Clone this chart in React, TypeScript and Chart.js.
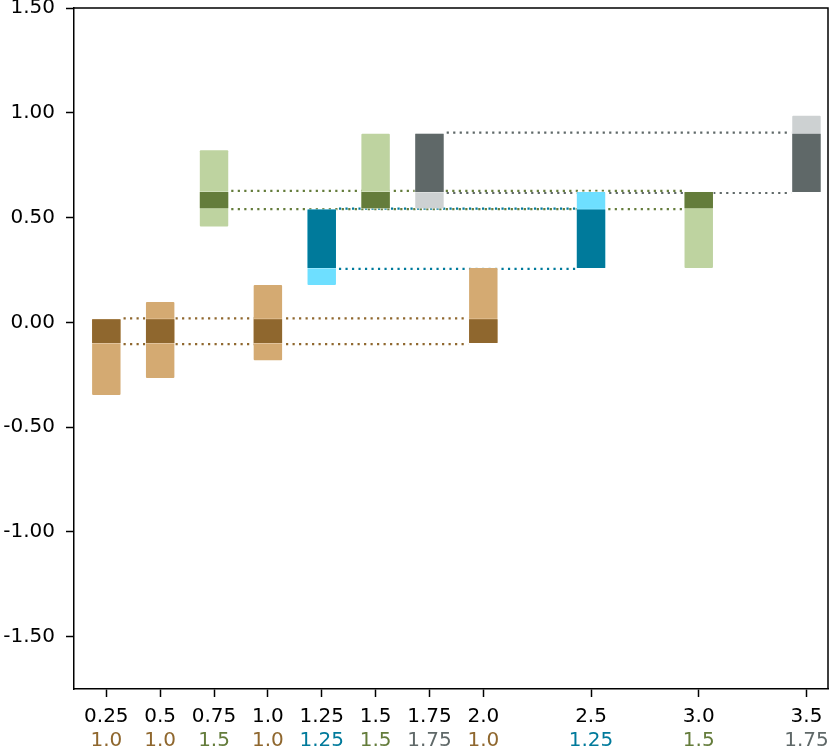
import { useEffect, useRef } from 'react';
import { Chart, registerables } from 'chart.js';

Chart.register(...registerables);

// ---- data ----
const xValues = [0.25, 0.5, 0.75, 1.0, 1.25, 1.5, 1.75, 2.0, 2.5, 3.0, 3.5];
const topLabels = ['0.25', '0.5', '0.75', '1.0', '1.25', '1.5', '1.75', '2.0', '2.5', '3.0', '3.5'];
const bottomLabels = ['1.0', '1.0', '1.5', '1.0', '1.25', '1.5', '1.75', '1.0', '1.25', '1.5', '1.75'];
const groupOfBar = [0, 0, 1, 0, 2, 1, 3, 0, 2, 1, 3];
const lightLow = [-0.352, -0.27, 0.452, -0.186, 0.173, 0.54, 0.54, -0.104, 0.255, 0.255, 0.617];
const lightHigh = [0.019, 0.102, 0.826, 0.183, 0.543, 0.905, 0.905, 0.264, 0.627, 0.627, 0.99];

const groupNames = ['brown', 'green', 'teal', 'gray'];
const refLow = [-0.104, 0.54, 0.255, 0.617];
const refHigh = [0.019, 0.627, 0.543, 0.905];

const darkColors = ['#8F672E', '#647C3B', '#007A9B', '#5F6868'];
const lightColors = ['#D4AA72', '#BED3A0', '#6EDFFF', '#CDD1D2'];

const yTickValues = [-1.5, -1.0, -0.5, 0.0, 0.5, 1.0, 1.5];

// bar width as a share of the smallest x spacing (0.25)
const BAR_SHARE = 0.565;

export default function App() {
  const ref = useRef<HTMLCanvasElement>(null);

  useEffect(() => {
    document.body.style.margin = '0';
    const FONT = { family: '"DejaVu Sans"', size: 20 };

    const minGap = Math.min(...xValues.slice(1).map((v, i) => v - xValues[i]));
    const halfBar = (minGap * BAR_SHARE) / 2;

    const lightData = xValues.map((x, i) => ({ x, y: [lightLow[i], lightHigh[i]] }));
    const darkData = xValues.map((x, i) => ({ x, y: [refLow[groupOfBar[i]], refHigh[groupOfBar[i]]] }));

    const lineDatasets: any[] = [];
    groupNames.forEach((name, g) => {
      const gx = xValues.filter((_, i) => groupOfBar[i] === g);
      const x0 = Math.min(...gx) + halfBar;
      const x1 = Math.max(...gx) - halfBar;
      [refHigh[g], refLow[g]].forEach((yv) => {
        lineDatasets.push({
          type: 'line',
          label: name + ' ref',
          data: [{ x: x0, y: yv }, { x: x1, y: yv }],
          borderColor: darkColors[g],
          borderWidth: 2.2,
          borderDash: [2.2, 4.3],
          borderDashOffset: -2,
          borderCapStyle: 'butt',
          pointRadius: 0,
          fill: false,
          order: 2,
        });
      });
    });

    const framePlugin = {
      id: 'frame',
      afterDraw(chart: any) {
        const { ctx, chartArea: a } = chart;
        ctx.save();
        ctx.strokeStyle = '#000';
        ctx.lineWidth = 1.5;
        ctx.beginPath();
        ctx.moveTo(a.left, a.top);
        ctx.lineTo(a.right, a.top);
        ctx.lineTo(a.right, a.bottom);
        ctx.stroke();
        ctx.restore();
      },
    };

    const chart = new Chart(ref.current!, {
      type: 'bar',
      data: {
        datasets: [
          {
            type: 'bar',
            label: 'range',
            data: lightData as any,
            backgroundColor: xValues.map((_, i) => lightColors[groupOfBar[i]]),
            borderColor: 'rgba(255,255,255,0.45)',
            borderWidth: 1,
            borderSkipped: false,
            borderRadius: 2,
            categoryPercentage: 1,
            barPercentage: BAR_SHARE,
            grouped: false,
            order: 1,
          } as any,
          {
            type: 'bar',
            label: 'reference',
            data: darkData as any,
            backgroundColor: xValues.map((_, i) => darkColors[groupOfBar[i]]),
            borderColor: 'rgba(255,255,255,0.3)',
            borderWidth: 1,
            borderSkipped: false,
            categoryPercentage: 1,
            barPercentage: BAR_SHARE,
            grouped: false,
            order: 0,
          } as any,
          ...lineDatasets,
        ],
      },
      options: {
        animation: false,
        responsive: true,
        maintainAspectRatio: false,
        layout: { padding: { top: 8, right: 3, left: 0, bottom: 0 } },
        plugins: {
          legend: { display: false },
          tooltip: { enabled: false },
        },
        scales: {
          x: {
            type: 'linear',
            position: 'bottom',
            weight: 0,
            min: 0.1,
            max: 3.6,
            offset: false,
            afterBuildTicks: (scale: any) => {
              scale.ticks = xValues.map((v) => ({ value: v }));
            },
            afterFit: (scale: any) => {
              scale.height = 33;
              scale.paddingLeft = 0;
              scale.paddingRight = 0;
            },
            grid: {
              offset: false,
              drawOnChartArea: false,
              drawTicks: true,
              tickLength: 8,
              tickWidth: 1.5,
              tickColor: '#000',
            },
            border: { display: true, color: '#000', width: 1.5 },
            ticks: {
              autoSkip: false,
              maxRotation: 0,
              padding: 8,
              color: '#000',
              font: FONT,
              callback: (_v: any, i: number) => topLabels[i],
            },
          },
          x2: {
            type: 'linear',
            position: 'bottom',
            weight: 1,
            min: 0.1,
            max: 3.6,
            offset: false,
            afterBuildTicks: (scale: any) => {
              scale.ticks = xValues.map((v) => ({ value: v }));
            },
            afterFit: (scale: any) => {
              scale.height = 31;
              scale.paddingLeft = 0;
              scale.paddingRight = 0;
            },
            grid: { display: false, drawTicks: false },
            border: { display: false },
            ticks: {
              autoSkip: false,
              maxRotation: 0,
              padding: 7,
              font: FONT,
              color: (ctx: any) => darkColors[groupOfBar[ctx.index]],
              callback: (_v: any, i: number) => bottomLabels[i],
            },
          },
          y: {
            type: 'linear',
            min: -1.75,
            max: 1.5,
            afterBuildTicks: (scale: any) => {
              scale.ticks = yTickValues.map((v) => ({ value: v }));
            },
            afterFit: (scale: any) => {
              scale.width = 74;
              scale.paddingTop = 0;
              scale.paddingBottom = 0;
            },
            grid: {
              drawOnChartArea: false,
              drawTicks: true,
              tickLength: 8,
              tickWidth: 1.5,
              tickColor: '#000',
            },
            border: { display: true, color: '#000', width: 1.5 },
            ticks: {
              padding: 11,
              color: '#000',
              font: FONT,
              callback: (v: any) => Number(v).toFixed(2),
            },
          },
        },
      } as any,
      plugins: [framePlugin],
    });

    return () => chart.destroy();
  }, []);

  return (
    <div style={{ width: 831, height: 753, position: 'relative' }}>
      <canvas ref={ref} />
    </div>
  );
}
